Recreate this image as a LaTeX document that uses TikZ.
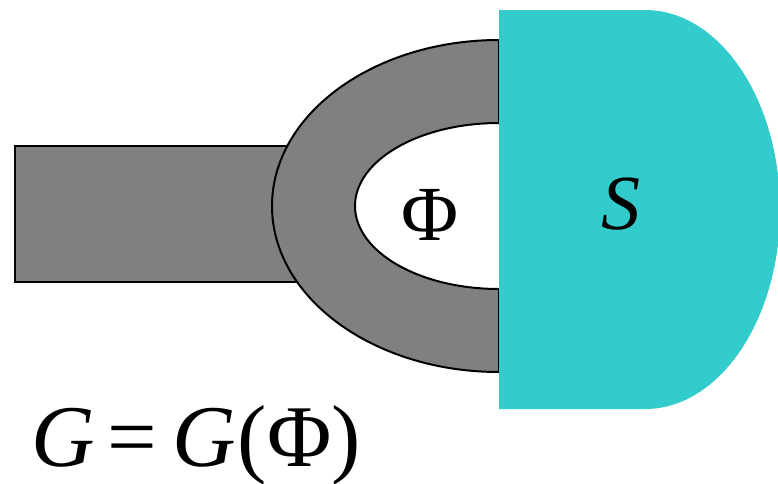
\documentclass[tikz,border=0pt]{standalone}
\usepackage{fontspec}
\setmainfont{Liberation Serif}
\newfontfamily\tms{Liberation Serif}
\definecolor{ringgray}{HTML}{808080}
\definecolor{scyan}{HTML}{33CCCC}
\tikzset{
  outline/.style={draw=black, line width=2pt},
  labeltext/.style={inner sep=0pt, font=\tms\fontsize{78}{84}\selectfont},
  eqtext/.style={inner sep=0pt, font=\tms\fontsize{88}{96}\selectfont},
}
\begin{document}
\begin{tikzpicture}[x=1pt,y=1pt]
\useasboundingbox (0,0) rectangle (778,-483);
% handle
\path[outline, fill=ringgray] (15,-146) rectangle (320,-282);
% ring
\path[outline, fill=ringgray]
  (499,-40) arc[start angle=90, end angle=270, x radius=227, y radius=166]
  -- (499,-289)
  arc[start angle=270, end angle=90, x radius=144, y radius=83]
  -- cycle;
% S region
\fill[scyan] (499,-10) -- (645,-10)
  arc[start angle=90, end angle=-90, x radius=135, y radius=199.5]
  -- (499,-409) -- cycle;
\node[labeltext] (phi) at (430,-215) {Φ};
\node[labeltext] (s) at (621,-204) {\itshape S};
\node[eqtext, anchor=base west] (eq) at (31,-466) {\itshape G\upshape\hspace{13pt}=\hspace{15pt}\itshape G\/\upshape\hspace{2pt}(Φ)};
\end{tikzpicture}
\end{document}
